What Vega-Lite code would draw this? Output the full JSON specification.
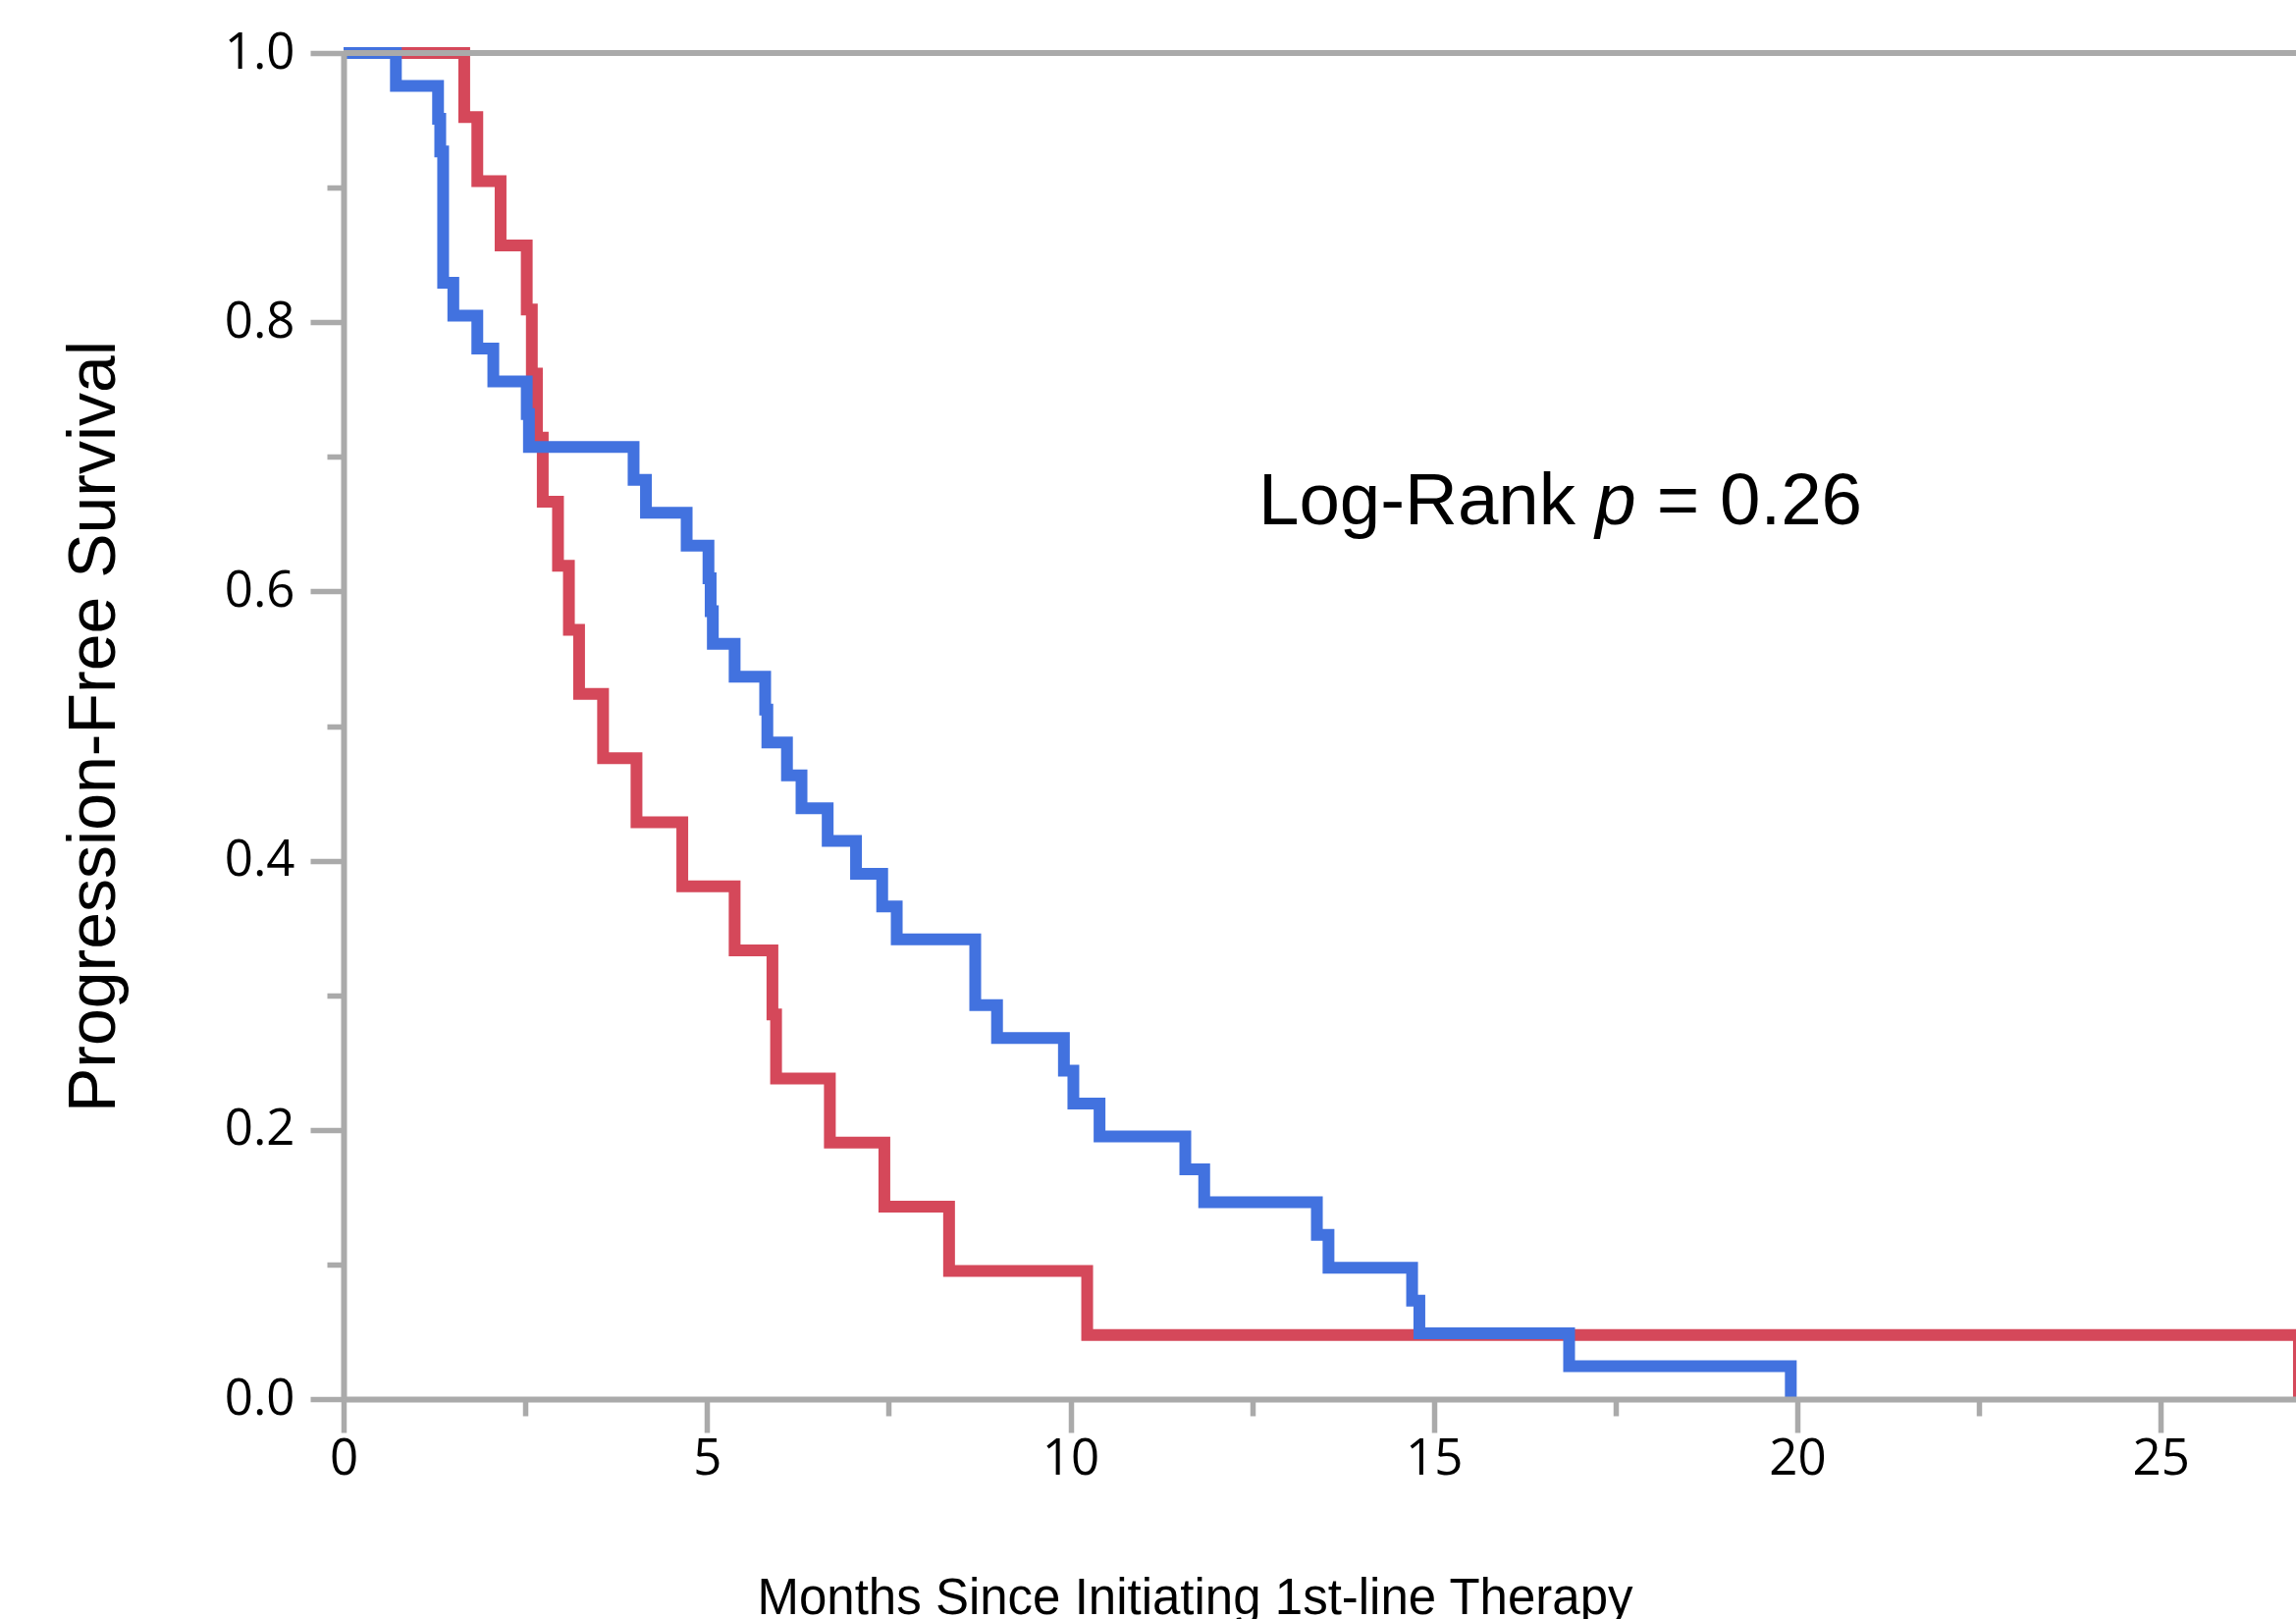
{
  "$schema": "https://vega.github.io/schema/vega-lite/v6.json",
  "width": 1989,
  "height": 1371,
  "autosize": {"type": "none"},
  "padding": {"left": 350, "top": 54, "right": 0, "bottom": 224},
  "background": "white",
  "config": {"view": {"stroke": null}, "font": "Liberation Sans"},
  "datasets": {
    "km": [
      {"arm": "Cohort A", "months": 0, "survival": 1},
      {"arm": "Cohort A", "months": 1.66, "survival": 0.9524},
      {"arm": "Cohort A", "months": 1.84, "survival": 0.9048},
      {"arm": "Cohort A", "months": 2.16, "survival": 0.8571},
      {"arm": "Cohort A", "months": 2.52, "survival": 0.8095},
      {"arm": "Cohort A", "months": 2.59, "survival": 0.7619},
      {"arm": "Cohort A", "months": 2.66, "survival": 0.7143},
      {"arm": "Cohort A", "months": 2.74, "survival": 0.6667},
      {"arm": "Cohort A", "months": 2.95, "survival": 0.619},
      {"arm": "Cohort A", "months": 3.1, "survival": 0.5714},
      {"arm": "Cohort A", "months": 3.24, "survival": 0.5238},
      {"arm": "Cohort A", "months": 3.57, "survival": 0.4762},
      {"arm": "Cohort A", "months": 4.03, "survival": 0.4286},
      {"arm": "Cohort A", "months": 4.66, "survival": 0.381},
      {"arm": "Cohort A", "months": 5.38, "survival": 0.3333},
      {"arm": "Cohort A", "months": 5.9, "survival": 0.2857},
      {"arm": "Cohort A", "months": 5.95, "survival": 0.2381},
      {"arm": "Cohort A", "months": 6.69, "survival": 0.1905},
      {"arm": "Cohort A", "months": 7.44, "survival": 0.1429},
      {"arm": "Cohort A", "months": 8.33, "survival": 0.0952},
      {"arm": "Cohort A", "months": 10.23, "survival": 0.0476},
      {"arm": "Cohort A", "months": 26.9, "survival": 0},
      {"arm": "Cohort B", "months": 0, "survival": 1},
      {"arm": "Cohort B", "months": 0.72, "survival": 0.9756},
      {"arm": "Cohort B", "months": 1.3, "survival": 0.9512},
      {"arm": "Cohort B", "months": 1.33, "survival": 0.9268},
      {"arm": "Cohort B", "months": 1.37, "survival": 0.8293},
      {"arm": "Cohort B", "months": 1.51, "survival": 0.8049},
      {"arm": "Cohort B", "months": 1.84, "survival": 0.7805},
      {"arm": "Cohort B", "months": 2.06, "survival": 0.7561},
      {"arm": "Cohort B", "months": 2.52, "survival": 0.7317},
      {"arm": "Cohort B", "months": 2.55, "survival": 0.7073},
      {"arm": "Cohort B", "months": 3.99, "survival": 0.6829},
      {"arm": "Cohort B", "months": 4.16, "survival": 0.6585},
      {"arm": "Cohort B", "months": 4.72, "survival": 0.6341},
      {"arm": "Cohort B", "months": 5.02, "survival": 0.6098},
      {"arm": "Cohort B", "months": 5.05, "survival": 0.5854},
      {"arm": "Cohort B", "months": 5.08, "survival": 0.561},
      {"arm": "Cohort B", "months": 5.38, "survival": 0.5366},
      {"arm": "Cohort B", "months": 5.8, "survival": 0.5122},
      {"arm": "Cohort B", "months": 5.83, "survival": 0.4878},
      {"arm": "Cohort B", "months": 6.1, "survival": 0.4634},
      {"arm": "Cohort B", "months": 6.3, "survival": 0.439},
      {"arm": "Cohort B", "months": 6.66, "survival": 0.4146},
      {"arm": "Cohort B", "months": 7.05, "survival": 0.3902},
      {"arm": "Cohort B", "months": 7.41, "survival": 0.3659},
      {"arm": "Cohort B", "months": 7.61, "survival": 0.3415},
      {"arm": "Cohort B", "months": 8.69, "survival": 0.2927},
      {"arm": "Cohort B", "months": 8.99, "survival": 0.2683},
      {"arm": "Cohort B", "months": 9.91, "survival": 0.2439},
      {"arm": "Cohort B", "months": 10.04, "survival": 0.2195},
      {"arm": "Cohort B", "months": 10.4, "survival": 0.1951},
      {"arm": "Cohort B", "months": 11.58, "survival": 0.1707},
      {"arm": "Cohort B", "months": 11.84, "survival": 0.1463},
      {"arm": "Cohort B", "months": 13.39, "survival": 0.122},
      {"arm": "Cohort B", "months": 13.55, "survival": 0.0976},
      {"arm": "Cohort B", "months": 14.7, "survival": 0.0732},
      {"arm": "Cohort B", "months": 14.8, "survival": 0.0488},
      {"arm": "Cohort B", "months": 16.86, "survival": 0.0244},
      {"arm": "Cohort B", "months": 19.91, "survival": 0}
    ],
    "note": [{"label": "Log-Rank p = 0.26"}]
  },
  "layer": [
    {
      "data": {"name": "km"},
      "encoding": {
        "x": {
          "field": "months",
          "type": "quantitative",
          "scale": {"domain": [0, 26.86], "nice": false, "zero": false},
          "axis": {
            "orient": "bottom",
            "values": [0, 5, 10, 15, 20, 25],
            "format": "d",
            "grid": false,
            "tickSize": 34,
            "tickWidth": 5.5,
            "tickColor": "#aaaaaa",
            "domainColor": "#aaaaaa",
            "domainWidth": 6,
            "labelFont": "Open Sans",
            "labelFontSize": 51,
            "labelColor": "black",
            "labelPadding": 2,
            "labelFlush": false,
            "labelOverlap": false,
            "title": "Months Since Initiating 1st-line Therapy",
            "titleFont": "Liberation Sans",
            "titleFontSize": 51,
            "titleFontWeight": "normal",
            "titleColor": "black",
            "titleX": 867,
            "titleY": 218,
            "titleAlign": "center",
            "titleBaseline": "alphabetic",
            "zindex": 1
          }
        },
        "y": {
          "field": "survival",
          "type": "quantitative",
          "scale": {"domain": [0, 1], "nice": false, "zero": false},
          "axis": {
            "orient": "left",
            "values": [0, 0.2, 0.4, 0.6, 0.8, 1.0],
            "format": ".1f",
            "grid": false,
            "tickSize": 34,
            "tickWidth": 5.5,
            "tickColor": "#aaaaaa",
            "domainColor": "#aaaaaa",
            "domainWidth": 6,
            "labelFont": "Open Sans",
            "labelFontSize": 51,
            "labelColor": "black",
            "labelPadding": 16,
            "labelFlush": false,
            "labelOverlap": false,
            "title": "Progression-Free Survival",
            "titleFont": "Liberation Sans",
            "titleFontSize": 68,
            "titleFontWeight": "normal",
            "titleColor": "black",
            "titleAngle": -90,
            "titleX": -234,
            "titleY": 685.5,
            "titleAlign": "center",
            "titleBaseline": "alphabetic",
            "zindex": 1
          }
        }
      },
      "layer": [
        {
          "transform": [{"filter": "datum.arm === 'Cohort A'"}],
          "mark": {"type": "line", "interpolate": "step-after", "strokeWidth": 12, "color": "#d5485a"}
        },
        {
          "transform": [{"filter": "datum.arm === 'Cohort B'"}],
          "mark": {"type": "line", "interpolate": "step-after", "strokeWidth": 12, "color": "#4272df"}
        }
      ]
    },
    {
      "data": {"name": "note"},
      "layer": [
        {
          "mark": {"type": "rule", "color": "#aaaaaa", "strokeWidth": 6},
          "encoding": {
            "y": {
              "datum": 1,
              "type": "quantitative",
              "scale": {"domain": [0, 1], "nice": false, "zero": false},
              "axis": {
                "orient": "left",
                "values": [0.1, 0.3, 0.5, 0.7, 0.9],
                "labels": false,
                "domain": false,
                "grid": false,
                "title": null,
                "tickSize": 17,
                "tickWidth": 5.5,
                "tickColor": "#aaaaaa",
                "zindex": 1
              }
            }
          }
        },
        {
          "mark": {"type": "text", "font": "Liberation Sans", "fontSize": 74.5, "align": "left", "baseline": "alphabetic", "color": "black"},
          "encoding": {
            "x": {
              "datum": 12.586,
              "type": "quantitative",
              "scale": {"domain": [0, 26.86], "nice": false, "zero": false},
              "axis": {
                "orient": "bottom",
                "values": [2.5, 7.5, 12.5, 17.5, 22.5],
                "labels": false,
                "domain": false,
                "grid": false,
                "title": null,
                "tickSize": 17,
                "tickWidth": 5.5,
                "tickColor": "#aaaaaa",
                "zindex": 1
              }
            },
            "y": {"datum": 0.6496, "type": "quantitative"},
            "text": {"value": "Log-Rank"}
          }
        },
        {
          "mark": {"type": "text", "font": "Liberation Sans", "fontSize": 74.5, "fontStyle": "italic", "align": "left", "baseline": "alphabetic", "color": "black"},
          "encoding": {
            "x": {"datum": 17.22, "type": "quantitative"},
            "y": {"datum": 0.6496, "type": "quantitative"},
            "text": {"value": "p"}
          }
        },
        {
          "mark": {"type": "text", "font": "Liberation Sans", "fontSize": 74.5, "align": "left", "baseline": "alphabetic", "color": "black"},
          "encoding": {
            "x": {"datum": 18.066, "type": "quantitative"},
            "y": {"datum": 0.6496, "type": "quantitative"},
            "text": {"value": "= 0.26"}
          }
        }
      ]
    }
  ],
  "resolve": {"scale": {"x": "independent", "y": "independent"}}
}
